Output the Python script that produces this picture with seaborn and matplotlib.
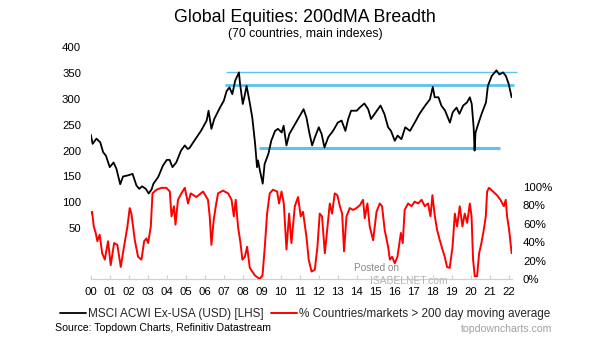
import matplotlib
matplotlib.use("Agg")
import matplotlib.pyplot as plt
import seaborn as sns
import numpy as np
import pandas as pd
from matplotlib.lines import Line2D

# ---------------- data ----------------
msci_year = [2000.0, 2000.1, 2000.3, 2000.5, 2000.65, 2000.8, 2001.0, 2001.2, 2001.35, 2001.55,
             2001.7, 2001.95, 2002.2, 2002.4, 2002.55, 2002.7, 2002.9, 2003.05, 2003.2, 2003.3,
             2003.55, 2003.8, 2004.0, 2004.15, 2004.3, 2004.5, 2004.75, 2004.95, 2005.1, 2005.2,
             2005.45, 2005.8, 2006.1, 2006.2, 2006.35, 2006.5, 2006.8, 2007.0, 2007.15, 2007.3,
             2007.45, 2007.6, 2007.8, 2007.85, 2008.0, 2008.1, 2008.2, 2008.35, 2008.5, 2008.65,
             2008.75, 2008.8, 2008.9, 2009.05, 2009.15, 2009.35, 2009.5, 2009.7, 2009.85, 2010.05,
             2010.15, 2010.3, 2010.45, 2010.75, 2011.0, 2011.2, 2011.35, 2011.5, 2011.65, 2011.8,
             2012.0, 2012.15, 2012.3, 2012.5, 2012.75, 2013.0, 2013.2, 2013.4, 2013.55, 2013.7,
             2014.0, 2014.15, 2014.4, 2014.6, 2014.75, 2015.0, 2015.25, 2015.45, 2015.65, 2015.8,
             2016.0, 2016.15, 2016.35, 2016.55, 2016.8, 2017.05, 2017.3, 2017.6, 2017.85, 2018.0,
             2018.1, 2018.3, 2018.45, 2018.65, 2018.9, 2019.05, 2019.25, 2019.4, 2019.6, 2019.8,
             2019.95, 2020.05, 2020.15, 2020.2, 2020.25, 2020.45, 2020.6, 2020.8, 2020.9, 2021.1,
             2021.35, 2021.5, 2021.7, 2021.85, 2022.0, 2022.15]
msci_value = [231, 213, 223, 216, 197, 190, 168, 177, 165, 135,
              150, 152, 155, 133, 126, 131, 126, 117, 125, 136,
              149, 171, 182, 182, 168, 177, 200, 210, 203, 205,
              219, 238, 258, 277, 242, 261, 283, 296, 315, 322,
              309, 335, 351, 331, 290, 306, 325, 296, 264, 213,
              168, 181, 162, 136, 174, 194, 219, 238, 242, 235,
              248, 210, 232, 251, 267, 280, 264, 235, 210, 226,
              245, 232, 206, 226, 238, 254, 258, 238, 261, 277,
              277, 283, 291, 280, 261, 274, 287, 271, 245, 238,
              219, 229, 222, 245, 238, 254, 271, 287, 299, 323,
              303, 303, 287, 277, 254, 274, 283, 271, 287, 293,
              303, 290, 245, 200, 235, 258, 274, 293, 325, 344,
              355, 347, 351, 344, 328, 303]

breadth_year = [2000.0, 2000.07, 2000.16, 2000.26, 2000.35, 2000.47, 2000.6, 2000.74, 2000.91, 2001.05,
                2001.23, 2001.4, 2001.58, 2001.75, 2001.93, 2002.05, 2002.14, 2002.32, 2002.49, 2002.67,
                2002.81, 2002.93, 2003.02, 2003.16, 2003.25, 2003.46, 2003.72, 2003.98, 2004.16, 2004.25,
                2004.38, 2004.46, 2004.59, 2004.77, 2004.95, 2005.12, 2005.26, 2005.56, 2005.91, 2006.17,
                2006.26, 2006.35, 2006.47, 2006.58, 2006.7, 2006.96, 2007.23, 2007.41, 2007.53, 2007.63,
                2007.75, 2007.88, 2007.98, 2008.11, 2008.23, 2008.37, 2008.63, 2008.89, 2009.04, 2009.16,
                2009.28, 2009.42, 2009.59, 2009.81, 2009.91, 2010.04, 2010.16, 2010.3, 2010.44, 2010.56,
                2010.74, 2010.91, 2011.05, 2011.17, 2011.35, 2011.47, 2011.62, 2011.79, 2011.93, 2012.05,
                2012.17, 2012.32, 2012.46, 2012.58, 2012.7, 2012.84, 2012.98, 2013.11, 2013.23, 2013.33,
                2013.46, 2013.63, 2013.81, 2013.98, 2014.16, 2014.33, 2014.42, 2014.56, 2014.68, 2014.86,
                2015.04, 2015.21, 2015.33, 2015.47, 2015.65, 2015.74, 2015.86, 2016.0, 2016.14, 2016.32,
                2016.42, 2016.52, 2016.7, 2016.88, 2017.05, 2017.23, 2017.41, 2017.58, 2017.75, 2017.88,
                2017.98, 2018.11, 2018.23, 2018.37, 2018.51, 2018.63, 2018.75, 2018.89, 2019.04, 2019.16,
                2019.28, 2019.42, 2019.56, 2019.68, 2019.81, 2019.95, 2020.04, 2020.12, 2020.21, 2020.33,
                2020.44, 2020.56, 2020.68, 2020.79, 2020.86, 2020.96, 2021.17, 2021.38, 2021.56, 2021.74,
                2021.84, 2021.91, 2022.02, 2022.15]
breadth_pct = [71, 73, 57, 50, 41, 48, 28, 21, 41, 15,
               39, 37, 13, 35, 57, 77, 71, 42, 24, 21,
               41, 44, 39, 57, 93, 97, 99, 99, 95, 68,
               79, 59, 86, 93, 99, 82, 93, 89, 95, 86,
               68, 37, 64, 79, 93, 96, 93, 86, 68, 86,
               57, 39, 21, 24, 35, 12, 4, 0, 4, 35,
               71, 93, 97, 95, 82, 95, 82, 32, 71, 39,
               79, 89, 68, 73, 46, 21, 8, 10, 35, 71,
               68, 28, 57, 82, 71, 93, 91, 79, 71, 30,
               68, 77, 75, 77, 80, 86, 66, 82, 57, 42,
               73, 82, 79, 53, 35, 21, 24, 17, 24, 50,
               39, 75, 82, 79, 84, 82, 86, 79, 82, 68,
               91, 68, 53, 42, 32, 24, 13, 12, 35, 71,
               57, 79, 57, 71, 61, 82, 68, 21, 3, 3,
               28, 39, 53, 68, 95, 99, 95, 91, 86, 79,
               86, 68, 53, 28]

# horizontal reference levels (value, start year, end year)
level_values = [352, 327, 205]
level_starts = [2007.14, 2007.05, 2008.86]
level_ends = [2022.42, 2022.3, 2021.53]

year_ticks = list(range(2000, 2023))
year_labels = [f"{y % 100:02d}" for y in year_ticks]
left_ticks = [50, 100, 150, 200, 250, 300, 350, 400]
right_ticks = [0, 20, 40, 60, 80, 100]

# ---------------- style ----------------
sns.set_theme(style="white")
plt.rcParams['font.family'] = ['Liberation Sans', 'DejaVu Sans']

fig = plt.figure(figsize=(6.05, 3.41), dpi=100)
ax = fig.add_axes([0.150, 0.182, 0.696, 0.680])
ax2 = ax.twinx()

msci_df = pd.DataFrame({"year": msci_year, "value": msci_value})
breadth_df = pd.DataFrame({"year": breadth_year, "pct": breadth_pct})

sns.lineplot(data=msci_df, x="year", y="value", ax=ax, color="black",
             linewidth=1.3, estimator=None, sort=False, legend=False)
sns.lineplot(data=breadth_df, x="year", y="pct", ax=ax2, color="#ff0000",
             linewidth=1.4, estimator=None, sort=False, legend=False)

level_widths = [1.0, 2.0, 2.2]
for v, s, e, w in zip(level_values, level_starts, level_ends, level_widths):
    ax.hlines(v, s, e, color="#5bc4ee", linewidth=w, clip_on=False, zorder=1)

ax.set_xlim(2000, 2022.16)
ax.set_ylim(-48, 400)
ax2.set_ylim(0, 252)

ax.set_xticks(year_ticks)
ax.set_xticklabels(year_labels)
ax.set_yticks(left_ticks)
ax2.set_yticks(right_ticks)
ax2.set_yticklabels([f"{t}%" for t in right_ticks])

ax.set_xlabel("")
ax.set_ylabel("")
ax2.set_ylabel("")

for sp in ["top", "left", "right"]:
    ax.spines[sp].set_visible(False)
for sp in ax2.spines.values():
    sp.set_visible(False)
ax.spines["bottom"].set_color("#d0d0d0")
ax.spines["bottom"].set_linewidth(0.9)

ax.tick_params(axis="x", direction="in", length=3, color="#d0d0d0", width=0.8,
               labelsize=8.2, pad=6, bottom=True, labelcolor="black")
ax.tick_params(axis="y", length=0, labelsize=8.2, pad=7, labelcolor="black")
ax2.tick_params(axis="y", length=0, labelsize=8.2, pad=8, labelcolor="black")
ax.grid(False)
ax2.grid(False)

# ---------------- texts ----------------
fig.text(305 / 605, 1 - 22 / 341, "Global Equities: 200dMA Breadth",
         ha="center", va="baseline", fontsize=12.8, color="black")
fig.text(305 / 605, 1 - 37 / 341, "(70 countries, main indexes)",
         ha="center", va="baseline", fontsize=8.8, color="black")

handles = [Line2D([], [], color="black", linewidth=1.3),
           Line2D([], [], color="#ff0000", linewidth=1.4)]
labels = ["MSCI ACWI Ex-USA (USD) [LHS]",
          "% Countries/markets > 200 day moving average"]
fig.legend(handles, labels, loc="center", bbox_to_anchor=(305 / 605, 1 - 314 / 341),
           ncol=2, frameon=False, fontsize=8.5, handlelength=2.2,
           handletextpad=0.2, columnspacing=0.6, borderpad=0, borderaxespad=0)

fig.text(55 / 605, 1 - 328 / 341, "Source: Topdown Charts, Refinitiv Datastream",
         ha="left", va="center", fontsize=7.6, color="black")
fig.text(552 / 605, 1 - 329 / 341, "topdowncharts.com",
         ha="right", va="center", fontsize=7.6, color="#a0a0a0")

# watermark
fig.text(376 / 605, 1 - 268 / 341, "Posted on", ha="center", va="center",
         fontsize=7.2, color="#8a8a8a")
fig.text(409 / 605, 1 - 280.5 / 341, "ISABELNET.com", ha="center", va="center",
         fontsize=7.4, color="#b5b5b5")

fig.savefig("out.png", dpi=100)
